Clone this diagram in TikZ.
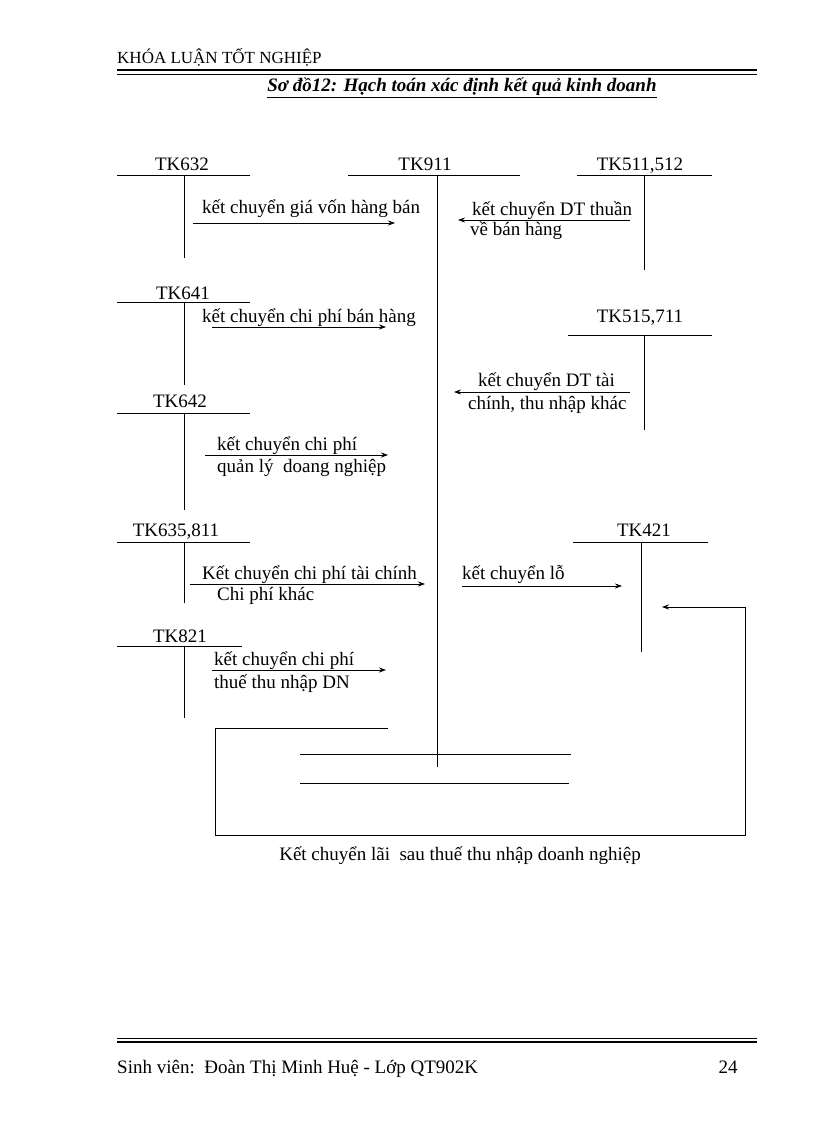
\documentclass[tikz,border=0pt]{standalone}
\usepackage{fontspec}
\setmainfont{Liberation Serif}
\usetikzlibrary{arrows.meta}
\begin{document}
\begin{tikzpicture}[x=1pt,y=-1pt,
  ln/.style={line width=0.8pt},
  arr/.style={line width=0.8pt,-{Stealth[length=7pt,width=5pt]}},
  lab/.style={font=\fontsize{19}{21}\selectfont,inner sep=0pt,text height=9pt,text depth=3pt,yshift=-3pt},
  tl/.style={lab,anchor=west}]
\useasboundingbox (0,0) rectangle (816,1123);
% header
\node[anchor=west,inner sep=0pt,font=\fontsize{17}{19}\selectfont] (hdr) at (117,57) {KHÓA LUẬN TỐT NGHIỆP};
\draw[line width=1.8pt] (117,70) -- (757,70);
\draw[line width=0.6pt] (117,74) -- (757,74);
\node[inner sep=0pt,font=\fontsize{19}{21}\selectfont\bfseries\itshape] (title) at (462,88) {\underline{Sơ đồ12: Hạch toán xác định kết quả kinh doanh}};
% accounts
\node[lab] (t632) at (182,165) {TK632};
\draw[ln] (117,175) -- (250,175) (184,175) -- (184,258);
\node[lab] (t911) at (425,165) {TK911};
\draw[ln] (348,175) -- (520,175) (437,175) -- (437,767);
\node[lab] (t511) at (640,165) {TK511,512};
\draw[ln] (577,175) -- (712,175) (644,175) -- (644,270);
\coordinate (a1s) at (193,223); \coordinate (a1e) at (395,223);
\draw[arr] (a1s) -- (a1e);
\node[tl] (l1) at (202,208) {kết chuyển giá vốn hàng bán};
\coordinate (a2s) at (630,220); \coordinate (a2e) at (458,220);
\draw[arr] (a2s) -- (a2e);
\node[tl] (l2) at (472,209) {kết chuyển DT thuần};
\node[tl] (l2b) at (470,230) {về bán hàng};
\node[lab] (t641) at (183,293) {TK641};
\draw[ln] (117,302) -- (250,302) (184,302) -- (184,385);
\coordinate (a3s) at (212,327); \coordinate (a3e) at (386,327);
\draw[arr] (a3s) -- (a3e);
\node[tl] (l3) at (202,316) {kết chuyển chi phí bán hàng};
\node[lab] (t515) at (640,316) {TK515,711};
\draw[ln] (568,335) -- (712,335) (644,335) -- (644,430);
\coordinate (a4s) at (630,392); \coordinate (a4e) at (454,392);
\draw[arr] (a4s) -- (a4e);
\node[tl] (l4) at (478,380) {kết chuyển DT tài};
\node[tl] (l4b) at (468,403) {chính, thu nhập khác};
\node[lab] (t642) at (180,401) {TK642};
\draw[ln] (117,413) -- (250,413) (184,413) -- (184,510);
\coordinate (a5s) at (205,455); \coordinate (a5e) at (388,455);
\draw[arr] (a5s) -- (a5e);
\node[tl] (l5) at (217,444) {kết chuyển chi phí};
\node[tl] (l5b) at (217,466) {quản lý\ \ doang nghiệp};
\node[lab] (t635) at (176,530) {TK635,811};
\draw[ln] (117,542) -- (250,542) (184,542) -- (184,603);
\coordinate (a6s) at (190,584); \coordinate (a6e) at (425,584);
\draw[arr] (a6s) -- (a6e);
\node[tl] (l6) at (202,573) {Kết chuyển chi phí tài chính};
\node[tl] (l6b) at (217,594) {Chi phí khác};
\node[lab] (t421) at (644,530) {TK421};
\draw[ln] (573,542) -- (708,542) (641,542) -- (641,652);
\coordinate (a7s) at (462,586); \coordinate (a7e) at (622,586);
\draw[arr] (a7s) -- (a7e);
\node[tl] (l7) at (462,573) {kết chuyển lỗ};
\node[lab] (t821) at (180,636) {TK821};
\draw[ln] (117,646) -- (242,646) (184,646) -- (184,718);
\coordinate (a8s) at (212,670); \coordinate (a8e) at (386,670);
\draw[arr] (a8s) -- (a8e);
\node[tl] (l8) at (214,659) {kết chuyển chi phí};
\node[tl] (l8b) at (214,682) {thuế thu nhập DN};
% loop
\coordinate (p1) at (388,728); \coordinate (p2) at (215,728);
\coordinate (p3) at (215,835); \coordinate (p4) at (745,835);
\coordinate (p5) at (745,607); \coordinate (p6) at (662,607);
\draw[arr] (p1) -- (p2) -- (p3) -- (p4) -- (p5) -- (p6);
\draw[ln] (300,754) -- (571,754) (300,783) -- (569,783);
\node[lab] (bot) at (460,854) {Kết chuyển lãi\ \ sau thuế thu nhập doanh nghiệp};
% footer
\draw[line width=0.6pt] (117,1038) -- (757,1038);
\draw[line width=1.8pt] (117,1042) -- (757,1042);
\node[tl] (ft) at (117,1067) {Sinh viên:\ \ Đoàn Thị Minh Huệ - Lớp QT902K};
\node[lab] (pg) at (728,1067) {24};
\end{tikzpicture}
\end{document}
